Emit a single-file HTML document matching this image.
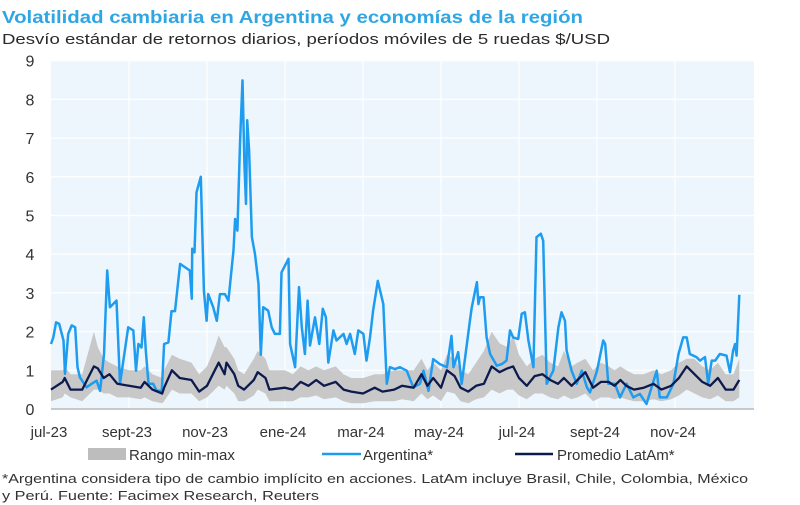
<!DOCTYPE html>
<html><head><meta charset="utf-8"><style>
html,body{margin:0;padding:0;background:#fff;}
svg{display:block;font-family:"Liberation Sans",sans-serif;}
</style></head><body>
<svg id="chart" width="800" height="505" viewBox="0 0 800 505">
<text x="2" y="23" font-size="17.5" font-weight="bold" fill="#2ea6e4" textLength="581" lengthAdjust="spacingAndGlyphs">Volatilidad cambiaria en Argentina y economías de la región</text>
<text x="2" y="44" font-size="14.5" fill="#2b2b2b" textLength="608" lengthAdjust="spacingAndGlyphs">Desvío estándar de retornos diarios, períodos móviles de 5 ruedas $/USD</text>
<rect x="51" y="60" width="703" height="349" fill="#eef6fd"/>
<g id="grid"></g>
<g id="yticks"></g>
<g id="xticks"></g>
<path id="band" fill="#c3c3c3" opacity="0.9"/>
<path id="arg" fill="none" stroke="#1e9cf0" stroke-width="2.5" stroke-linejoin="round"/>
<path id="avg" fill="none" stroke="#0d1a4e" stroke-width="2.3" stroke-linejoin="round"/>
<line x1="51" y1="409" x2="754" y2="409" stroke="#b8b8b8" stroke-width="1.5"/>
<g>
<g><rect x="88" y="448" width="38" height="12" fill="#bdbdbd"/><text x="129" y="460" font-size="15" fill="#333">Rango min-max</text></g>
<g><line x1="322" y1="454" x2="361" y2="454" stroke="#1e9cf0" stroke-width="2.5"/><text x="363" y="460" font-size="15" fill="#333">Argentina*</text></g>
<g><line x1="515" y1="454" x2="553" y2="454" stroke="#0d1a4e" stroke-width="2.5"/><text x="557" y="460" font-size="15" fill="#333">Promedio LatAm*</text></g>
</g>
<text x="2" y="483" font-size="12.5" fill="#333" textLength="746" lengthAdjust="spacingAndGlyphs">*Argentina considera tipo de cambio implícito en acciones. LatAm incluye Brasil, Chile, Colombia, México</text>
<text x="2" y="500" font-size="12.5" fill="#333" textLength="317" lengthAdjust="spacingAndGlyphs">y Perú. Fuente: Facimex Research, Reuters</text>
</svg>
<script>
const xTickLabels=["jul-23","sept-23","nov-23","ene-24","mar-24","may-24","jul-24","sept-24","nov-24"];
const yTickLabels=[0,1,2,3,4,5,6,7,8,9];
const argT=[0,0.06,0.13,0.21,0.32,0.36,0.44,0.53,0.62,0.68,0.74,0.91,1.04,1.17,1.26,1.36,1.44,1.51,1.6,1.68,1.77,1.98,2.11,2.18,2.24,2.32,2.38,2.43,2.5,2.62,2.71,2.84,2.9,3.01,3.09,3.18,3.31,3.44,3.56,3.61,3.62,3.68,3.73,3.84,3.92,3.99,4.03,4.16,4.25,4.33,4.46,4.55,4.68,4.72,4.78,4.85,4.91,4.96,5.0,5.03,5.08,5.15,5.23,5.32,5.38,5.44,5.57,5.66,5.74,5.87,5.91,6.09,6.13,6.26,6.36,6.43,6.51,6.58,6.64,6.77,6.88,6.97,7.05,7.11,7.24,7.32,7.5,7.58,7.67,7.79,7.88,8.01,8.09,8.18,8.26,8.38,8.52,8.61,8.69,8.82,8.95,9.12,9.29,9.46,9.55,9.68,9.8,9.97,10.15,10.27,10.32,10.44,10.53,10.74,10.79,10.92,10.96,11.0,11.09,11.17,11.26,11.43,11.56,11.68,11.77,11.85,11.98,12.07,12.15,12.24,12.37,12.45,12.56,12.62,12.71,12.88,13.01,13.09,13.18,13.22,13.35,13.48,13.61,13.74,13.82,14.0,14.16,14.21,14.29,14.46,14.59,14.76,14.93,15.1,15.27,15.4,15.53,15.61,15.79,15.96,16.09,16.21,16.3,16.38,16.55,16.64,16.77,16.85,16.94,17.03,17.15,17.32,17.41,17.49,17.54,17.58,17.65];
const argV=[1.68,1.85,2.24,2.2,1.77,0.91,1.94,2.16,2.11,1.08,0.82,0.56,0.65,0.73,0.47,1.41,3.58,2.63,2.72,2.8,0.65,2.11,2.03,0.99,1.68,1.59,2.37,1.51,0.65,0.65,0.47,0.47,1.68,1.72,2.53,2.53,3.75,3.66,3.58,2.85,4.14,4.05,5.6,6.0,3.06,2.28,2.97,2.63,2.28,2.97,2.97,2.8,4.1,4.91,4.61,6.94,8.49,6.34,5.3,7.46,6.68,4.44,4.0,3.23,1.4,2.63,2.54,2.11,1.94,1.94,3.53,3.88,1.68,1.08,3.15,2.11,1.42,2.8,1.64,2.37,1.68,2.59,2.37,1.2,2.03,1.77,1.94,1.68,1.94,1.42,2.03,1.94,1.25,1.85,2.54,3.31,2.71,0.65,1.08,1.03,1.08,0.99,0.56,0.65,0.99,0.47,1.29,1.16,1.08,1.89,1.08,1.47,0.65,2.28,2.63,3.28,2.71,2.89,2.89,1.85,1.42,1.12,1.16,1.25,2.03,1.85,1.81,2.46,2.5,1.77,1.08,4.44,4.53,4.35,0.65,0.99,2.11,2.5,2.28,1.51,0.99,0.65,0.99,0.56,0.43,0.99,1.77,1.68,0.65,0.65,0.3,0.65,0.3,0.39,0.13,0.56,0.99,0.3,0.3,0.65,1.42,1.85,1.85,1.42,1.34,1.25,1.34,0.65,1.25,1.25,1.42,1.38,0.95,1.51,1.68,1.38,2.95];
const latT=[0,0.3,0.35,0.5,0.8,1.1,1.2,1.35,1.5,1.7,2.0,2.3,2.4,2.6,2.85,2.9,3.1,3.3,3.6,3.8,4.0,4.2,4.3,4.45,4.5,4.7,4.8,4.95,5.2,5.3,5.5,5.6,6.0,6.2,6.4,6.6,6.8,7.0,7.3,7.5,7.7,8.0,8.3,8.5,8.8,9.0,9.3,9.5,9.65,9.8,10.0,10.15,10.35,10.5,10.7,10.9,11.1,11.3,11.5,11.7,11.85,12.0,12.2,12.4,12.6,12.8,13.0,13.15,13.35,13.5,13.7,13.9,14.1,14.3,14.45,14.6,14.75,14.95,15.2,15.45,15.65,15.9,16.1,16.3,16.5,16.7,16.9,17.1,17.3,17.5,17.65];
const latAvg=[0.5,0.7,0.8,0.5,0.5,1.1,1.05,0.8,0.9,0.65,0.6,0.55,0.7,0.5,0.4,0.55,1.0,0.8,0.75,0.45,0.6,1.0,1.2,0.9,1.2,0.9,0.6,0.5,0.75,0.95,0.8,0.5,0.55,0.5,0.7,0.6,0.75,0.6,0.7,0.5,0.45,0.4,0.55,0.45,0.5,0.6,0.55,0.9,0.6,0.8,0.55,1.0,0.85,0.55,0.45,0.6,0.65,1.1,0.95,1.05,1.1,0.8,0.6,0.85,0.9,0.75,0.65,0.8,0.6,0.75,0.95,0.55,0.7,0.7,0.6,0.75,0.6,0.5,0.55,0.65,0.5,0.6,0.8,1.1,0.9,0.7,0.6,0.8,0.5,0.5,0.75];
const latMax=[1.0,1.0,1.1,0.9,0.9,2.0,1.6,1.3,1.2,1.1,1.0,1.0,1.1,0.9,0.8,1.0,1.4,1.3,1.2,0.9,1.1,1.6,1.9,1.6,1.6,1.3,1.0,0.9,1.3,1.5,1.3,1.0,1.0,0.9,1.1,1.0,1.1,1.0,1.1,0.9,0.8,0.8,0.9,0.9,1.0,1.0,1.0,1.3,1.0,1.2,1.0,1.4,1.3,1.0,0.9,1.2,1.5,2.0,1.7,1.6,1.9,1.4,1.1,1.3,1.4,1.2,1.1,1.5,1.1,1.2,1.3,1.0,1.2,1.1,1.0,1.1,1.0,0.9,0.9,1.0,0.9,1.0,1.2,1.3,1.3,1.1,1.0,1.2,0.9,0.9,1.3];
const latMin=[0.2,0.3,0.4,0.3,0.2,0.5,0.5,0.4,0.4,0.3,0.3,0.25,0.3,0.2,0.15,0.2,0.5,0.4,0.4,0.2,0.3,0.5,0.6,0.5,0.6,0.4,0.2,0.2,0.35,0.5,0.4,0.2,0.2,0.2,0.3,0.3,0.35,0.25,0.3,0.2,0.15,0.15,0.2,0.2,0.2,0.25,0.2,0.4,0.25,0.35,0.2,0.45,0.4,0.2,0.15,0.25,0.3,0.5,0.4,0.5,0.5,0.35,0.25,0.4,0.4,0.3,0.25,0.35,0.25,0.3,0.4,0.2,0.3,0.3,0.25,0.3,0.25,0.2,0.2,0.25,0.2,0.25,0.35,0.5,0.4,0.3,0.25,0.35,0.2,0.2,0.3];

const X0=51,MONTH=39,Y0=409,UNIT=38.7;
function xs(t){return X0+MONTH*t;}
function ys(v){return Y0-UNIT*v;}
const NS="http://www.w3.org/2000/svg";
const grid=document.getElementById('grid'),yt=document.getElementById('yticks'),xt=document.getElementById('xticks');
yTickLabels.forEach(v=>{
  if(v>0){const l=document.createElementNS(NS,'line');
  l.setAttribute('x1',51);l.setAttribute('x2',754);l.setAttribute('y1',ys(v));l.setAttribute('y2',ys(v));
  l.setAttribute('stroke','#ffffff');l.setAttribute('stroke-width','1.2');
  
  
  grid.appendChild(l);}
  const t=document.createElementNS(NS,'text');
  t.setAttribute('x',30);t.setAttribute('y',ys(v)+6);t.setAttribute('text-anchor','middle');
  t.setAttribute('font-size','16');t.setAttribute('fill','#333');t.textContent=v;
  
  
  yt.appendChild(t);
});
xTickLabels.forEach((s,i)=>{
  const m=i*2;
  if(m>0){const l=document.createElementNS(NS,'line');
  l.setAttribute('x1',xs(m));l.setAttribute('x2',xs(m));l.setAttribute('y1',60);l.setAttribute('y2',409);
  l.setAttribute('stroke','#ffffff');l.setAttribute('stroke-width','1.2');
  
  
  grid.appendChild(l);}
  const t=document.createElementNS(NS,'text');
  t.setAttribute('x',xs(m)-2);t.setAttribute('y',437);t.setAttribute('text-anchor','middle');
  t.setAttribute('font-size','15');t.setAttribute('fill','#333');t.textContent=s;
  
  
  xt.appendChild(t);
});
function line(T,V){const n=Math.min(T.length,V.length);let d='';for(let i=0;i<n;i++)d+=(i?'L':'M')+xs(T[i]).toFixed(1)+','+ys(V[i]).toFixed(1);return d;}
const nb=Math.min(latT.length,latMax.length,latMin.length);
let bd='';for(let i=0;i<nb;i++)bd+=(i?'L':'M')+xs(latT[i]).toFixed(1)+','+ys(latMax[i]).toFixed(1);
for(let i=nb-1;i>=0;i--)bd+='L'+xs(latT[i]).toFixed(1)+','+ys(latMin[i]).toFixed(1);
document.getElementById('band').setAttribute('d',bd+'Z');
document.getElementById('arg').setAttribute('d',line(argT,argV));
document.getElementById('avg').setAttribute('d',line(latT,latAvg));
</script>
</body></html>
